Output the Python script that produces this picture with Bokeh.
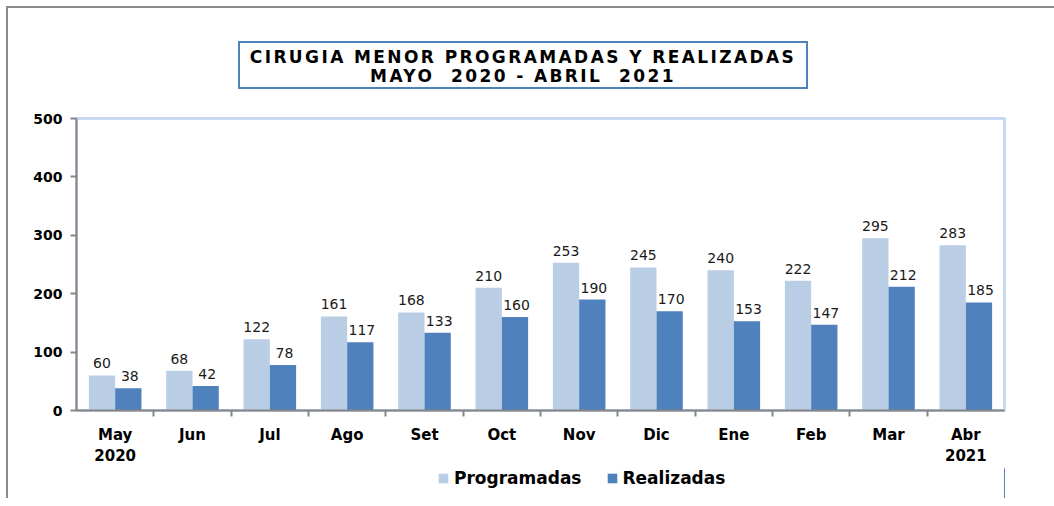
from bokeh.plotting import figure
from bokeh.layouts import column
from bokeh.models import (FactorRange, Range1d, CategoricalAxis, FixedTicker, Div,
                          Legend, LegendItem, ColumnDataSource)
from bokeh.transform import dodge
from bokeh.core.properties import value
from bokeh.embed import file_html
from bokeh.resources import INLINE

months = ["May\n2020", "Jun", "Jul", "Ago", "Set", "Oct", "Nov", "Dic", "Ene", "Feb", "Mar", "Abr\n2021"]
programadas = [60, 68, 122, 161, 168, 210, 253, 245, 240, 222, 295, 283]
realizadas = [38, 42, 78, 117, 133, 160, 190, 170, 153, 147, 212, 185]
series_names = ["Programadas", "Realizadas"]
title_lines = ["CIRUGIA MENOR PROGRAMADAS Y REALIZADAS", "MAYO  2020 - ABRIL  2021"]
y_ticks = [0, 100, 200, 300, 400, 500]

src = ColumnDataSource(dict(
    m=months, p=programadas, r=realizadas,
    pl=[str(v) for v in programadas], rl=[str(v) for v in realizadas]))

FONT = "DejaVu Sans"
GRAY = "#868686"
C_P = "#b9cde5"
C_R = "#4f81bd"

# title box (HTML so both lines can be centred inside one bordered box)
title_html = (
    '<div style="box-sizing:border-box; margin-left:225px; margin-top:28px; width:570px; '
    'height:48px; border:2px solid %s; padding:5px 0; text-align:center; '
    "font-family:'DejaVu Sans'; font-weight:bold; font-size:17px; line-height:19px; "
    'letter-spacing:2.4px; white-space:pre; color:black; background:white;">%s</div>'
    % (C_R, "<br>".join(title_lines))
)
title_div = Div(text=title_html, width=1046, height=90)

p = figure(x_range=FactorRange(factors=months, range_padding=0),
           y_range=Range1d(0, 500),
           width=1046, height=360, output_backend="svg", toolbar_location=None,
           min_border_left=68, min_border_right=50, min_border_top=10, min_border_bottom=58)
p.xgrid.grid_line_color = None
p.ygrid.grid_line_color = None
p.outline_line_color = "#c6d9f1"
p.outline_line_width = 3
p.background_fill_color = "white"
p.border_fill_color = "white"

p.vbar(x=dodge("m", -0.17, range=p.x_range), top="p", width=0.34, source=src,
       fill_color=C_P, line_color=None)
p.vbar(x=dodge("m", 0.17, range=p.x_range), top="r", width=0.34, source=src,
       fill_color=C_R, line_color=None)

for col, lab, dx in (("p", "pl", -0.17), ("r", "rl", 0.19)):
    p.text(x=dodge("m", dx, range=p.x_range), y=col, text=lab, source=src,
           text_align="center", text_baseline="bottom", y_offset=-7,
           text_font=value(FONT), text_font_size="14px", text_color="#1a1a1a")

# y axis
ya = p.yaxis[0]
ya.ticker = FixedTicker(ticks=y_ticks)
ya.axis_line_color = GRAY
ya.axis_line_width = 2
ya.major_tick_line_color = GRAY
ya.major_tick_line_width = 2
ya.major_tick_out = 6
ya.major_tick_in = 0
ya.minor_tick_line_color = None
ya.major_label_text_font = FONT
ya.major_label_text_font_style = "bold"
ya.major_label_text_font_size = "14px"
ya.major_label_text_color = "black"
ya.major_label_standoff = 8

# category axis (labels only)
xa = p.xaxis[0]
xa.axis_line_color = None
xa.major_tick_line_color = None
xa.major_label_text_font = FONT
xa.major_label_text_font_style = "bold"
xa.major_label_text_font_size = "15px"
xa.major_label_text_color = "black"
xa.major_label_standoff = 3
xa.major_label_orientation = "horizontal"

# boundary tick axis: a factor range whose factor centres fall on the category boundaries
bounds = ["b%d" % i for i in range(len(months) + 1)]
p.extra_x_ranges = {"bounds": FactorRange(factors=bounds, range_padding=-0.5,
                                          range_padding_units="absolute")}
ta = CategoricalAxis(x_range_name="bounds",
                     major_label_text_font_size="0px", major_label_standoff=0,
                     major_tick_out=6, major_tick_in=0, axis_line_color=GRAY, axis_line_width=2,
                     major_tick_line_color=GRAY, major_tick_line_width=2,
                     major_label_text_color=None)
p.below = [ta] + list(p.below)

# legend strip below the chart (its swatch renderers lie outside the strip's view)
lf = figure(width=1046, height=30, output_backend="svg", toolbar_location=None,
            x_range=Range1d(0, 1), y_range=Range1d(0, 1),
            x_axis_location=None, y_axis_location=None,
            min_border_left=0, min_border_right=0, min_border_top=0, min_border_bottom=0)
lf.xgrid.grid_line_color = None
lf.ygrid.grid_line_color = None
lf.outline_line_color = None
lf.border_fill_color = "white"
lp = lf.vbar(x="p", top="p", width=0.1, source=src, fill_color=C_P, line_color=None)
lr = lf.vbar(x="r", top="r", width=0.1, source=src, fill_color=C_R, line_color=None)
legend = Legend(items=[LegendItem(label=series_names[0], renderers=[lp]),
                       LegendItem(label=series_names[1], renderers=[lr])],
                orientation="horizontal", location=(361, 10),
                glyph_width=12, glyph_height=12, label_standoff=5, spacing=24,
                label_text_font=FONT, label_text_font_style="bold", label_text_font_size="17px",
                label_text_color="black", border_line_color=None, background_fill_alpha=0,
                padding=0, margin=0)
lf.add_layout(legend, "center")

layout = column(title_div, p, lf, spacing=0,
                styles={"margin-left": "6px", "margin-top": "6px", "background": "white",
                        "border-left": "2px solid #8c8c8c", "border-top": "2px solid #8c8c8c"})

open("out.html", "w").write(file_html(layout, INLINE))
